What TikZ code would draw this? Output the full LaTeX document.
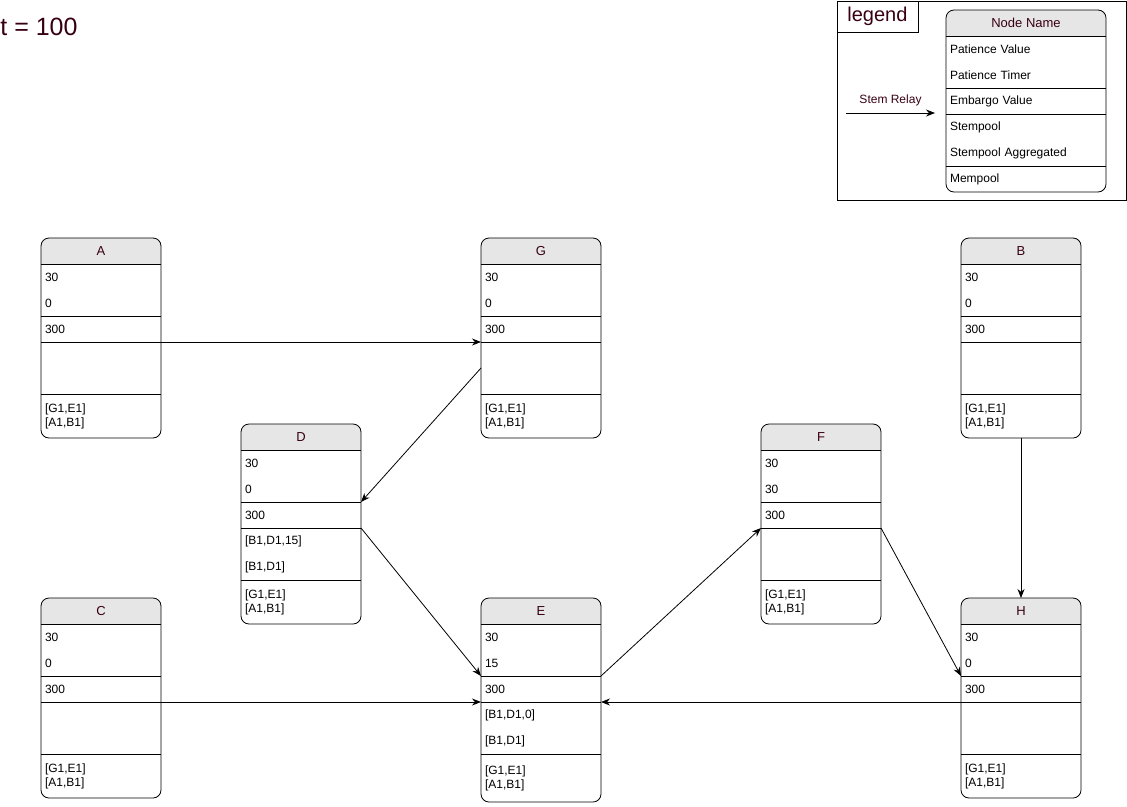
\documentclass[tikz,border=0pt]{standalone}
\usepackage{fontspec}
\setmainfont{Liberation Sans}
\usepackage{tikz}
\usetikzlibrary{arrows.meta,positioning}
\usepackage{xcolor}

\definecolor{titlered}{RGB}{55,0,18}
\definecolor{headgray}{RGB}{230,230,230}

\newcommand{\peerw}{120pt}
\newcommand{\peertw}{112pt}
% #1 name, #2 x, #3 y, #4 title, #5 patience, #6 embargo, #7 stempool, #8 mempool, #9 mempool height
\newcommand{\peer}[9]{%
	\node[peerhead] (#1) at (#2,#3) {};
	\node[peerrows, minimum height=52pt, below=0pt of #1] (#1-pat) {#5};
	\node[peerrows, minimum height=26pt, below=0pt of #1-pat] (#1-emb) {#6};
	\node[peerrows, minimum height=52pt, below=0pt of #1-emb] (#1-stem) {#7};
	\node[peermem, minimum height=#9, below=0pt of #1-stem] (#1-mem) {#8};
	\begin{scope}
		\clip[rounded corners=8pt] (#1.north west) rectangle (#1-mem.south east);
		\fill[headgray] (#1.north west) rectangle (#1.south east);
	\end{scope}
	\node[peertitle] (#1-title) at (#1) {#4};
	\draw[rounded corners=8pt] (#1.north west) rectangle (#1-mem.south east);
	\foreach \p in {,-pat,-emb,-stem}
		\draw (#1\p.south west) -- (#1\p.south east);
}

\begin{document}
\begin{tikzpicture}[x=1pt,y=-1pt,line width=0.8pt,
		peerhead/.style={anchor=north west, minimum width=\peerw, minimum height=26pt, inner sep=0pt, outer sep=0pt},
		peertitle/.style={inner sep=0pt, text=titlered, font=\fontsize{13}{15}\selectfont},
		peerrows/.style={text width=\peertw, inner xsep=4pt, inner ysep=0pt, outer sep=0pt, align=left, font=\fontsize{12}{26}\selectfont},
		peermem/.style={peerrows, font=\fontsize{12}{14}\selectfont},
		relay/.style={-{Stealth[length=9pt,width=7pt]}}]
	\useasboundingbox (0,0) rectangle (1127,806);

	\node[anchor=west, inner sep=0pt, text=titlered, font=\fontsize{25}{30}\selectfont] (time) at (0,27) {t = 100};

	% legend
	\node[draw, anchor=north west, minimum width=289pt, minimum height=199pt, inner sep=0pt] (legendframe) at (836.5,0.5) {};
	\node[draw, anchor=north west, minimum width=81pt, minimum height=31pt, inner sep=0pt, text=titlered, font=\fontsize{20}{24}\selectfont] (legendtitle) at (836.5,0.5) {legend};
	\begin{scope}
		\renewcommand{\peerw}{160pt}
		\renewcommand{\peertw}{152pt}
		\peer{key}{946}{10}{Node Name}{Patience Value\\Patience Timer}{Embargo Value}{Stempool\\Stempool Aggregated}{Mempool}{26pt}
	\end{scope}
	\coordinate (relay-in) at (846,113);
	\coordinate (relay-out) at (935,113);
	\draw[relay] (relay-in) -- node[midway, above=3pt, text=titlered, font=\fontsize{12}{14}\selectfont] (relaylabel) {Stem Relay} (relay-out);

	% peers
	\peer{A}{41}{238}{A}{30\\0}{300}{}{[G1,E1]\\{}[A1,B1]}{44pt}
	\peer{G}{481}{238}{G}{30\\0}{300}{}{[G1,E1]\\{}[A1,B1]}{44pt}
	\peer{B}{961}{238}{B}{30\\0}{300}{}{[G1,E1]\\{}[A1,B1]}{44pt}
	\peer{D}{241}{424}{D}{30\\0}{300}{[B1,D1,15]\\{}[B1,D1]}{[G1,E1]\\{}[A1,B1]}{44pt}
	\peer{F}{761}{424}{F}{30\\30}{300}{}{[G1,E1]\\{}[A1,B1]}{44pt}
	\peer{C}{41}{598}{C}{30\\0}{300}{}{[G1,E1]\\{}[A1,B1]}{44pt}
	\peer{E}{481}{598}{E}{30\\15}{300}{[B1,D1,0]\\{}[B1,D1]}{[G1,E1]\\{}[A1,B1]}{48pt}
	\peer{H}{961}{598}{H}{30\\0}{300}{}{[G1,E1]\\{}[A1,B1]}{44pt}

	% stem relays
	\draw[relay] (A-emb.south east) -- (G-emb.south west);
	\draw[relay] (G-stem.west) -- (D-pat.south east);
	\draw[relay] (D-emb.south east) -- (E-pat.south west);
	\draw[relay] (C-emb.south east) -- (E-emb.south west);
	\draw[relay] (E-pat.south east) -- (F-emb.south west);
	\draw[relay] (F-emb.south east) -- (H-pat.south west);
	\draw[relay] (B-mem.south) -- (H.north);
	\draw[relay] (H-emb.south west) -- (E-emb.south east);
\end{tikzpicture}
\end{document}
